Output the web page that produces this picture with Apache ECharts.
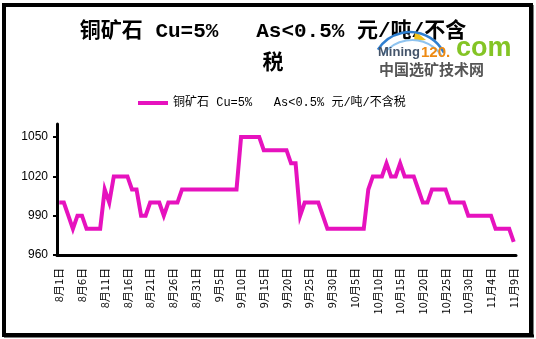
<!DOCTYPE html>
<html>
<head>
<meta charset="utf-8">
<script src="https://cdn.jsdelivr.net/npm/echarts@6/dist/echarts.min.js"></script>
<style>html,body{margin:0;padding:0;background:#fff}#c{width:536px;height:339px}</style>
</head>
<body>
<div id="c"></div>
<script>
// Series name / title
const seriesName = '铜矿石 Cu=5%   As<0.5% 元/吨/不含税';
const titleText = '铜矿石 Cu=5%   As<0.5% 元/吨/不含\n税';

// Categories: daily, 8月1日 .. 11月9日
const months = [8, 9, 10, 11];
const monthDays = [31, 30, 31, 9];
const categories = [];
months.forEach((m, i) => { for (let d = 1; d <= monthDays[i]; d++) categories.push(m + '月' + d + '日'); });

// Price values (元/吨), one per day
const prices = [
  1000,1000,990,980,990,990,980,980,980,980,
  1010,1000,1020,1020,1020,1020,1010,1010,990,990,
  1000,1000,1000,990,1000,1000,1000,1010,1010,1010,
  1010,1010,1010,1010,1010,1010,1010,1010,1010,1010,
  1050,1050,1050,1050,1050,1040,1040,1040,1040,1040,
  1040,1030,1030,990,1000,1000,1000,1000,990,980,
  980,980,980,980,980,980,980,980,1010,1020,
  1020,1020,1030,1020,1020,1030,1020,1020,1020,1010,
  1000,1000,1010,1010,1010,1010,1000,1000,1000,1000,
  990,990,990,990,990,990,980,980,980,980,
  970
];

// Y axis ticks
const yTicks = [960, 990, 1020, 1050];

const chart = echarts.init(document.getElementById('c'), null, {renderer: 'canvas'});
const CJK = "'Noto Sans CJK SC', 'Liberation Sans', sans-serif";
const MONO = "'Liberation Mono', 'Noto Sans CJK SC', monospace";
chart.setOption({
  animation: false,
  backgroundColor: '#fff',
  title: {
    text: titleText,
    left: 268, top: 11, textAlign: 'center',
    textStyle: {fontFamily: MONO, fontSize: 21, fontWeight: 'bold', color: '#000', lineHeight: 32}
  },
  legend: {
    data: [seriesName],
    left: 133, top: 92,
    icon: 'rect', itemWidth: 30, itemHeight: 4, itemGap: 4,
    textStyle: {fontFamily: MONO, fontSize: 12, color: '#000'}
  },
  grid: {left: 57, right: 20, top: 124, bottom: 84, containLabel: false},
  xAxis: {
    type: 'category', data: categories, boundaryGap: true,
    axisLine: {lineStyle: {color: '#000', width: 3}},
    axisTick: {interval: 4, length: 3, lineStyle: {color: '#000', width: 2}},
    axisLabel: {interval: 4, rotate: 90, margin: 13, fontFamily: CJK, fontSize: 11, color: '#000'},
    splitLine: {show: false}
  },
  yAxis: {
    type: 'value', min: 960, max: 1060, interval: 30,
    axisLine: {show: true, lineStyle: {color: '#000', width: 3}},
    axisTick: {show: true, length: 4, customValues: yTicks, lineStyle: {color: '#000', width: 2}},
    axisLabel: {customValues: yTicks, margin: 9, formatter: v => String(v), fontFamily: "'Liberation Sans', sans-serif", fontSize: 12, color: '#000'},
    splitLine: {show: false}
  },
  series: [{
    name: seriesName, type: 'line', data: prices,
    symbol: 'none', color: '#E612BE',
    lineStyle: {width: 4, color: '#E612BE', join: 'miter'}
  }],
  graphic: [
    {type: 'rect', shape: {x: 4, y: 5, width: 527, height: 330}, style: {fill: 'none', stroke: '#000', lineWidth: 4}, z: 100},
    {type: 'line', shape: {x1: 532, y1: 5, x2: 532, y2: 337}, style: {stroke: '#000', lineWidth: 3}, z: 100},
    {type: 'line', shape: {x1: 4, y1: 336, x2: 534, y2: 336}, style: {stroke: '#000', lineWidth: 3}, z: 100},
    // watermark
    {type: 'arc', shape: {cx: 410, cy: 70, r: 38, startAngle: Math.PI * 1.18, endAngle: Math.PI * 1.85}, style: {stroke: '#2f7fd0', lineWidth: 2.5, fill: 'none'}, z: 50},
    {type: 'arc', shape: {cx: 412, cy: 76, r: 36, startAngle: Math.PI * 1.2, endAngle: Math.PI * 1.82}, style: {stroke: '#8ec3ef', lineWidth: 2, fill: 'none'}, z: 50},
    {type: 'polygon', shape: {points: [[415, 31], [426, 40], [414, 41]]}, style: {fill: '#f2c21b'}, z: 49},
    {type: 'text', left: 378, top: 46, style: {text: 'Mining', font: "bold 13px 'Liberation Sans', sans-serif", fill: '#44546a'}, z: 51},
    {type: 'text', left: 421, top: 45, style: {text: '120.', font: "bold 15px 'Liberation Sans', sans-serif", fill: '#ee8a12'}, z: 51},
    {type: 'text', left: 456, top: 35, style: {text: 'com', font: "bold 27px 'Liberation Sans', sans-serif", fill: '#84c425'}, z: 51},
    {type: 'text', left: 379, top: 62, style: {text: '中国选矿技术网', font: "bold 15px 'Noto Sans CJK SC', sans-serif", fill: '#555'}, z: 51}
  ]
});
</script>
</body>
</html>
